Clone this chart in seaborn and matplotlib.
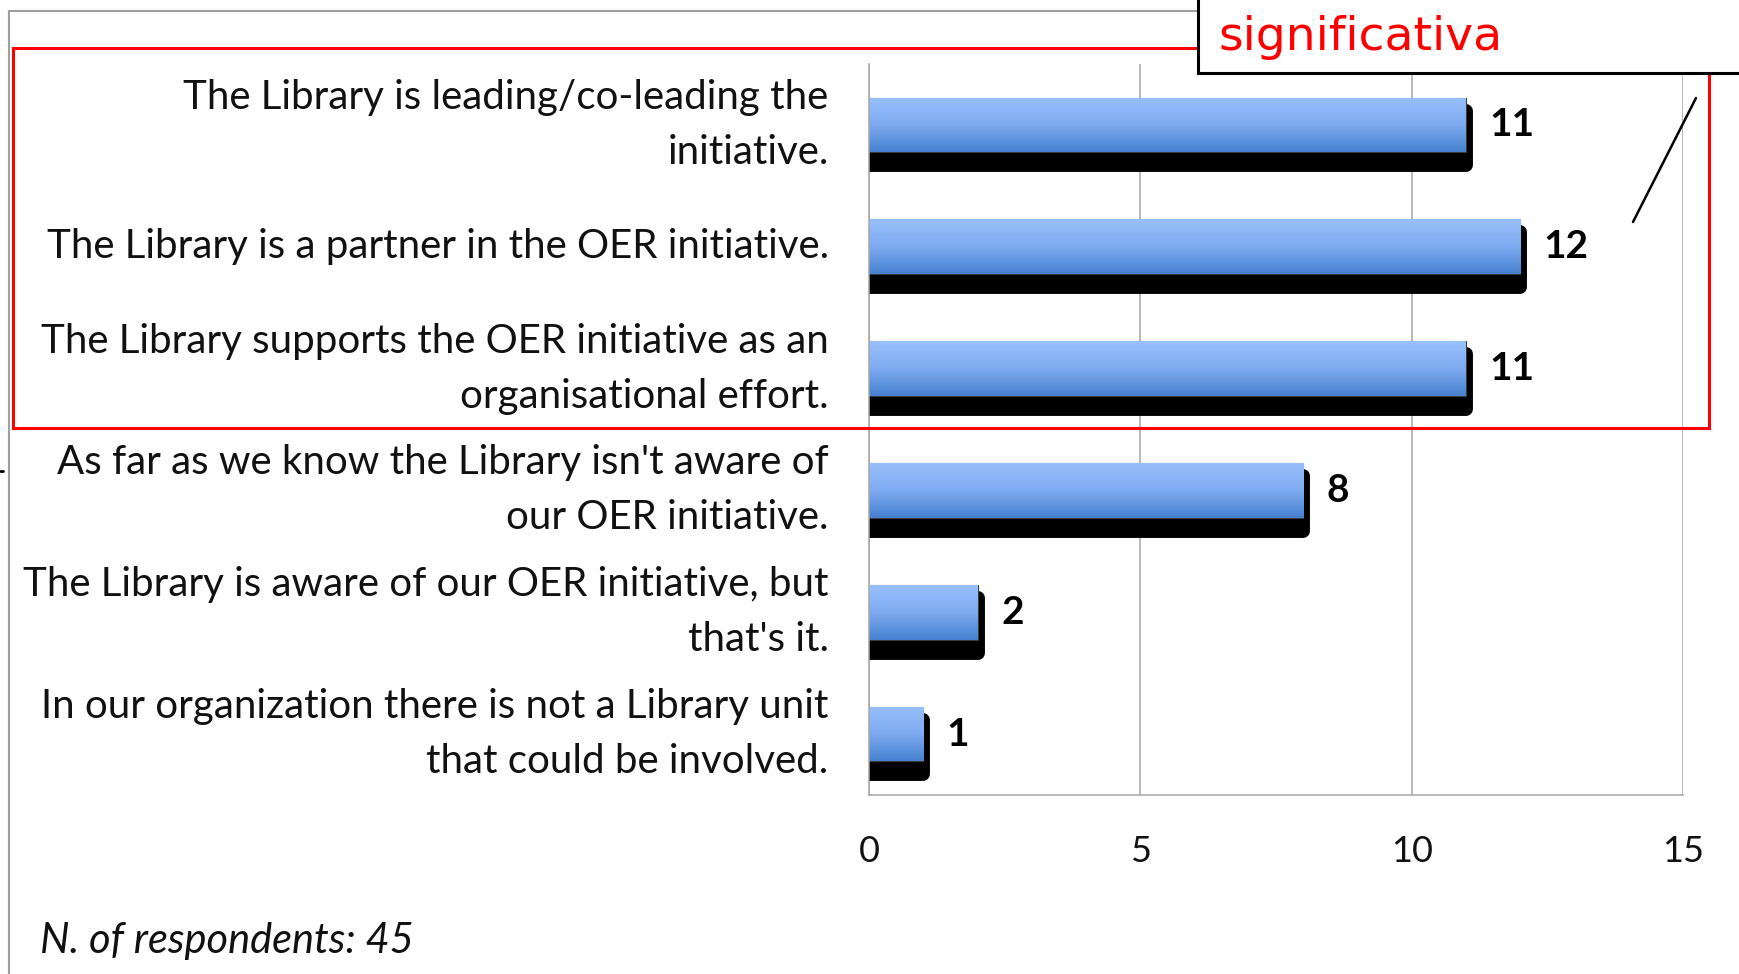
import numpy as np
import seaborn as sns
import matplotlib.pyplot as plt
from matplotlib.colors import LinearSegmentedColormap
from matplotlib.patches import Rectangle
from matplotlib.lines import Line2D
from matplotlib.transforms import offset_copy

categories = [
    "The Library is leading/co-leading the\ninitiative.",
    "The Library is a partner in the OER initiative.",
    "The Library supports the OER initiative as an\norganisational effort.",
    "As far as we know the Library isn't aware of\nour OER initiative.",
    "The Library is aware of our OER initiative, but\nthat's it.",
    "In our organization there is not a Library unit\nthat could be involved.",
]
counts = [11, 12, 11, 8, 2, 1]
x_ticks = [0, 5, 10, 15]
note = "N. of respondents: 45"
callout = "significativa"

W, H = 1740, 974


def fx(px):
    return px / W


def fy(py):
    return 1 - py / H


def main():
    sns.set_style("white")
    plt.rcParams['font.family'] = ['Lato', 'DejaVu Sans']

    fig = plt.figure(figsize=(17.4, 9.74), dpi=100)
    ax = fig.add_axes([fx(869), fy(795), fx(1683 - 869), (795 - 64) / H])

    n = len(counts)
    # shadow bars, then the blue bars over them
    sns.barplot(x=counts, y=categories, color="black", width=0.45,
                saturation=1, ax=ax, zorder=2)
    shadows = list(ax.patches)
    sns.barplot(x=counts, y=categories, color="#6a9ee6", width=0.45,
                saturation=1, ax=ax, zorder=3, edgecolor="#3a3a3a", linewidth=0.8)
    bars = [p for p in ax.patches if p not in shadows]

    # shadow: shifted down, thick round edge gives the soft right corners
    shadow_tr = offset_copy(ax.transData, fig=fig, x=0, y=-13, units='dots')
    for p in shadows:
        p.set_transform(shadow_tr)
        p.set_joinstyle('round')
        p.set_edgecolor('black')
        p.set_linewidth(10)

    cmap = LinearSegmentedColormap.from_list("bar", ["#98c0fb", "#7eaaf0", "#4681d0"])
    grad = np.linspace(0, 1, 256).reshape(-1, 1)
    for p in bars:
        x0, y0, w, h = p.get_x(), p.get_y(), p.get_width(), p.get_height()
        im = ax.imshow(grad, extent=(x0, x0 + w, y0 + h, y0), origin='upper',
                       aspect='auto', cmap=cmap, zorder=3.5)
        im.set_clip_path(p)

    ax.set_xlim(0, 15)
    ax.set_ylim(n - 0.5, -0.5)
    ax.set_xlabel("")
    ax.set_ylabel("")

    for i, v in enumerate(counts):
        ax.annotate(str(v), (v, i), xytext=(17, 0), textcoords='offset points',
                    ha='left', va='center', fontsize=28, fontweight='bold', color='black')

    grey = "#a6a6a6"
    ax.set_xticks(x_ticks)
    ax.set_xticklabels([str(t) for t in x_ticks], fontsize=26, color='#111111')
    ax.tick_params(axis='x', length=11, width=1.1, color=grey, pad=18, direction='out')
    ax.set_yticks(range(n))
    ax.set_yticklabels(categories, fontsize=29, color='#111111', linespacing=1.6, va='center')
    ax.set_yticks(np.arange(-0.5, n, 1), minor=True)
    ax.tick_params(axis='y', which='major', length=0, pad=29)
    ax.tick_params(axis='y', which='minor', length=6.5, width=1.1, color=grey, direction='out')
    ax.xaxis.grid(True, color=grey, linewidth=1.1, zorder=0)
    ax.yaxis.grid(False)
    ax.set_axisbelow(True)
    for s in ['top', 'right']:
        ax.spines[s].set_visible(False)
    for s in ['left', 'bottom']:
        ax.spines[s].set_color(grey)
        ax.spines[s].set_linewidth(1.1)
        ax.spines[s].set_zorder(5)

    # outer chart frame
    fig.add_artist(Rectangle((fx(9), fy(1000)), fx(1800), (1000 - 11) / H,
                             transform=fig.transFigure, fill=False,
                             edgecolor="#a0a0a0", linewidth=1.5, zorder=0))
    # red highlight box
    fig.add_artist(Rectangle((fx(13), fy(428)), fx(1709 - 13), (428 - 48) / H,
                             transform=fig.transFigure, fill=False,
                             edgecolor="#ff0000", linewidth=2.2, zorder=10))
    # callout box
    fig.add_artist(Rectangle((fx(1198), fy(73)), fx(700), 0.2,
                             transform=fig.transFigure, facecolor="white",
                             edgecolor="black", linewidth=2.2, zorder=11))
    fig.text(fx(1218), fy(50), callout, color="#ff0000", fontsize=34,
             family=['DejaVu Sans'], ha='left', va='baseline', zorder=12)
    fig.add_artist(Line2D([fx(1696), fx(1633)], [fy(98), fy(222)],
                          transform=fig.transFigure, color='black', linewidth=1.8, zorder=12))
    fig.add_artist(Line2D([fx(0), fx(3)], [fy(471), fy(471)],
                          transform=fig.transFigure, color='black', linewidth=2, zorder=12))

    fig.text(fx(40), fy(941), note, fontsize=30, style='italic', color='#111111',
             ha='left', va='center')

    fig.savefig("out.png", dpi=100)


if __name__ == "__main__":
    main()
